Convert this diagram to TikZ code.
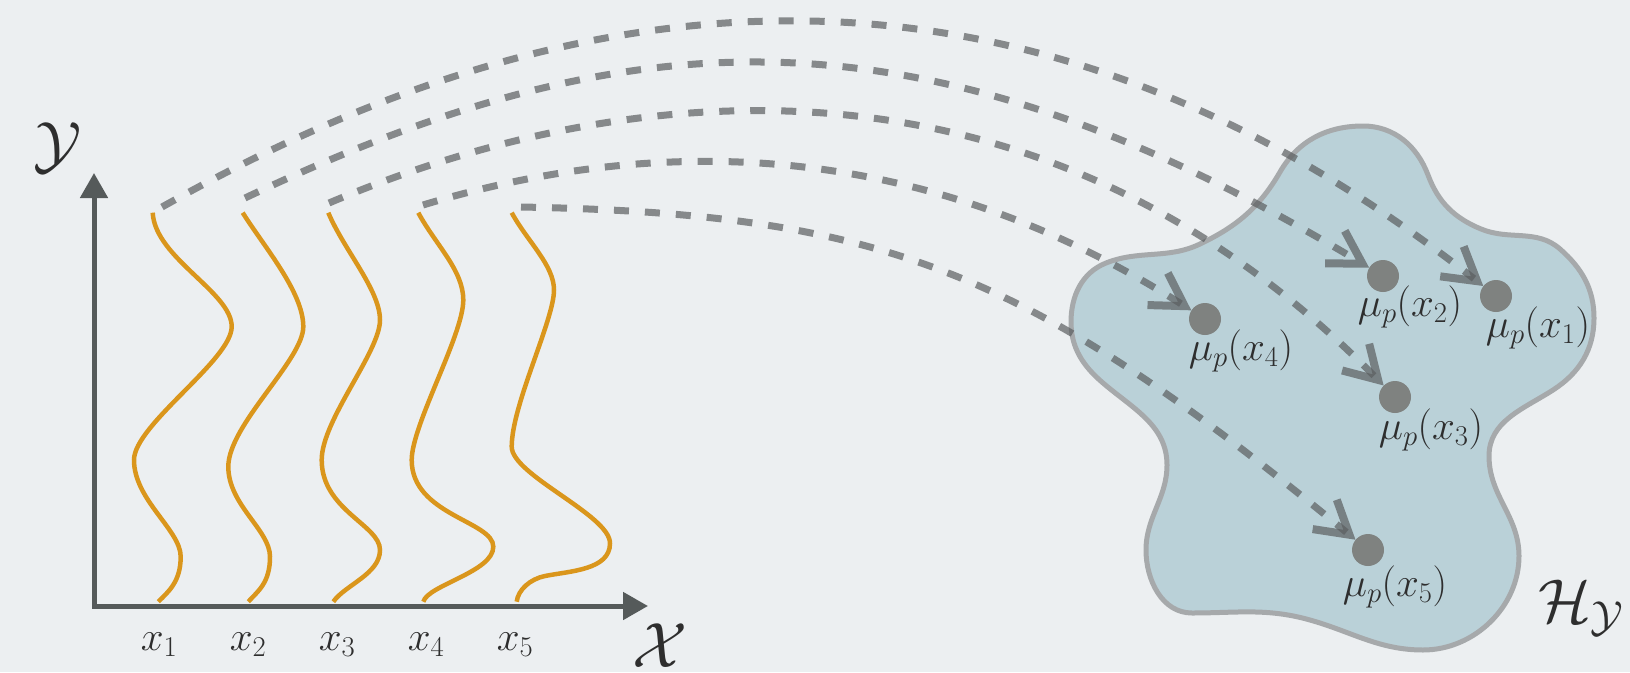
\RequirePackage{fix-cm}
\documentclass[tikz,border=0pt]{standalone}
\usetikzlibrary{arrows.meta}
\definecolor{bgcol}{HTML}{ECEFF1}
\definecolor{axiscol}{HTML}{555A5A}
\definecolor{orangecol}{HTML}{DA961C}
\definecolor{dashcol}{HTML}{5B5E60}
\definecolor{dotcol}{HTML}{7F8280}
\definecolor{blobfill}{HTML}{BAD1D8}
\definecolor{blobedge}{HTML}{A6A9AB}
\definecolor{textcol}{HTML}{2E2E2E}
\tikzset{
  axisline/.style={draw=axiscol, line width=5pt},
  density/.style={draw=orangecol, line width=4.5pt},
  maparrow/.style={draw=dashcol, draw opacity=0.7, line width=7pt, dash pattern=on 15pt off 16pt,
    -{Straight Barb[length=32pt,width=38pt,line width=8pt]}},
  dot/.style={circle, fill=dotcol, minimum size=32pt, inner sep=0pt},
  lbl/.style={text=textcol, inner sep=0pt, font=\fontsize{41}{45}\selectfont},
  biglbl/.style={text=textcol, inner sep=0pt, font=\fontsize{64}{70}\selectfont},
  hlbl/.style={text=textcol, inner sep=0pt, font=\fontsize{62}{68}\selectfont},
  blob/.style={fill=blobfill, draw=blobedge, line width=5pt}
}
\begin{document}
\begin{tikzpicture}[x=1pt,y=-1pt]
\useasboundingbox (0,0) rectangle (1630,672);
\fill[bgcol] (0,0) rectangle (1630,672);

% feature space blob
\draw[blob] (1200,244) .. controls (1236.9,226.4) and (1259.5,207.3) .. (1280,172)
  .. controls (1298,140.7) and (1327,126) .. (1363,126)
  .. controls (1394,126) and (1417.1,145.9) .. (1428,175)
  .. controls (1438.2,202.3) and (1454.3,218) .. (1481,229)
  .. controls (1509.5,240.8) and (1536.7,228.5) .. (1560,249)
  .. controls (1581.8,268.1) and (1594,289) .. (1594,318)
  .. controls (1594,349.5) and (1579.5,373) .. (1553,390)
  .. controls (1523.6,408.9) and (1489,421) .. (1489,456)
  .. controls (1489,496) and (1519,516) .. (1519,556)
  .. controls (1519,607) and (1474,650) .. (1423,650)
  .. controls (1379,650) and (1352.2,631.9) .. (1310,620)
  .. controls (1266.8,607.8) and (1237,613) .. (1192,613)
  .. controls (1162,613) and (1146,580) .. (1146,550)
  .. controls (1146,517) and (1167,498) .. (1167,465)
  .. controls (1167,425.5) and (1133,408.7) .. (1103,383)
  .. controls (1083.2,366.1) and (1071,348) .. (1071,322)
  .. controls (1071,296) and (1081.8,272.6) .. (1106,263)
  .. controls (1139.5,249.7) and (1167.6,259.5) .. (1200,244) -- cycle;

% densities
\draw[density] (152.7,212.7) .. controls (155,258) and (231.7,292) .. (231.7,326.7)
  .. controls (231.7,360) and (134,425) .. (134,460)
  .. controls (134,500) and (180.7,530) .. (180.7,556.7)
  .. controls (180.7,582) and (168,592) .. (158.3,601.7);
\draw[density] (242.7,212.7) .. controls (264,246.7) and (303.3,292) .. (303.3,326.7)
  .. controls (303.3,360) and (228.3,425) .. (228.3,466.7)
  .. controls (228.3,505) and (270,530) .. (270,556.7)
  .. controls (270,583) and (258,591) .. (248.3,601.7);
\draw[density] (328.3,212.7) .. controls (344,250) and (380,290) .. (380,320)
  .. controls (380,352) and (321.7,420) .. (321.7,460)
  .. controls (321.7,510) and (380,525) .. (380,550)
  .. controls (380,574) and (345,585) .. (333.3,601.7);
\draw[density] (418.3,212.7) .. controls (435,244) and (463.3,270) .. (463.3,300)
  .. controls (463.3,335) and (411.7,425) .. (411.7,460)
  .. controls (411.7,515) and (493.3,521) .. (493.3,546.7)
  .. controls (493.3,572) and (428,585) .. (423.3,601.7);
\draw[density] (511.7,212.7) .. controls (527,241) and (554,265) .. (554,290)
  .. controls (554,320) and (511.7,405) .. (511.7,446.7)
  .. controls (511.7,475) and (610,515) .. (610,543.3)
  .. controls (610,570) and (570,571) .. (545,576)
  .. controls (530,579) and (518,590) .. (516.7,601.7);

% axes
\coordinate (O) at (94,606);
\coordinate (ytip) at (94,173);
\coordinate (xtip) at (648,606);
\draw[axisline, {Triangle[length=25pt,width=27pt]}-{Triangle[length=25pt,width=27pt]}] (ytip) -- (O) -- (xtip);

\node[biglbl] (ylab) at (58,148) {$\mathcal{Y}$};
\node[biglbl, anchor=base] (xlab) at (660,667) {$\mathcal{X}$};
\node[lbl, anchor=base] (x1) at (159,650) {$x_1$};
\node[lbl, anchor=base] (x2) at (248,650) {$x_2$};
\node[lbl, anchor=base] (x3) at (337,650) {$x_3$};
\node[lbl, anchor=base] (x4) at (426,650) {$x_4$};
\node[lbl, anchor=base] (x5) at (515,650) {$x_5$};

% embedded points
\node[dot] (m1) at (1496,296) {};
\node[dot] (m2) at (1383,276) {};
\node[dot] (m3) at (1395,397) {};
\node[dot] (m4) at (1205,319) {};
\node[dot] (m5) at (1368,550) {};

\node[lbl] (l1) at (1538,328) {$\mu_p(x_1)$};
\node[lbl] (l2) at (1410,307) {$\mu_p(x_2)$};
\node[lbl] (l3) at (1431,430) {$\mu_p(x_3)$};
\node[lbl] (l4) at (1241,351) {$\mu_p(x_4)$};
\node[lbl] (l5) at (1395,587) {$\mu_p(x_5)$};
\node[hlbl, anchor=base west] (hy) at (1538,622) {$\mathcal{H}_{\mathcal{Y}}$};

% mapping arrows
\coordinate (c1) at (162,207);
\coordinate (c2) at (245,198);
\coordinate (c3) at (329,203);
\coordinate (c4) at (423,205);
\coordinate (c5) at (521,207);
\draw[maparrow] (c1) .. controls (509,12) and (970,-117) .. (m1);
\draw[maparrow] (c2) .. controls (625,18) and (916,-5) .. (m2);
\draw[maparrow] (c3) .. controls (560,105) and (1002,-1) .. (m3);
\draw[maparrow] (c4) .. controls (605,150) and (883,115) .. (m4);
\draw[maparrow] (c5) .. controls (882,214) and (1025,268) .. (m5);
\end{tikzpicture}
\end{document}
